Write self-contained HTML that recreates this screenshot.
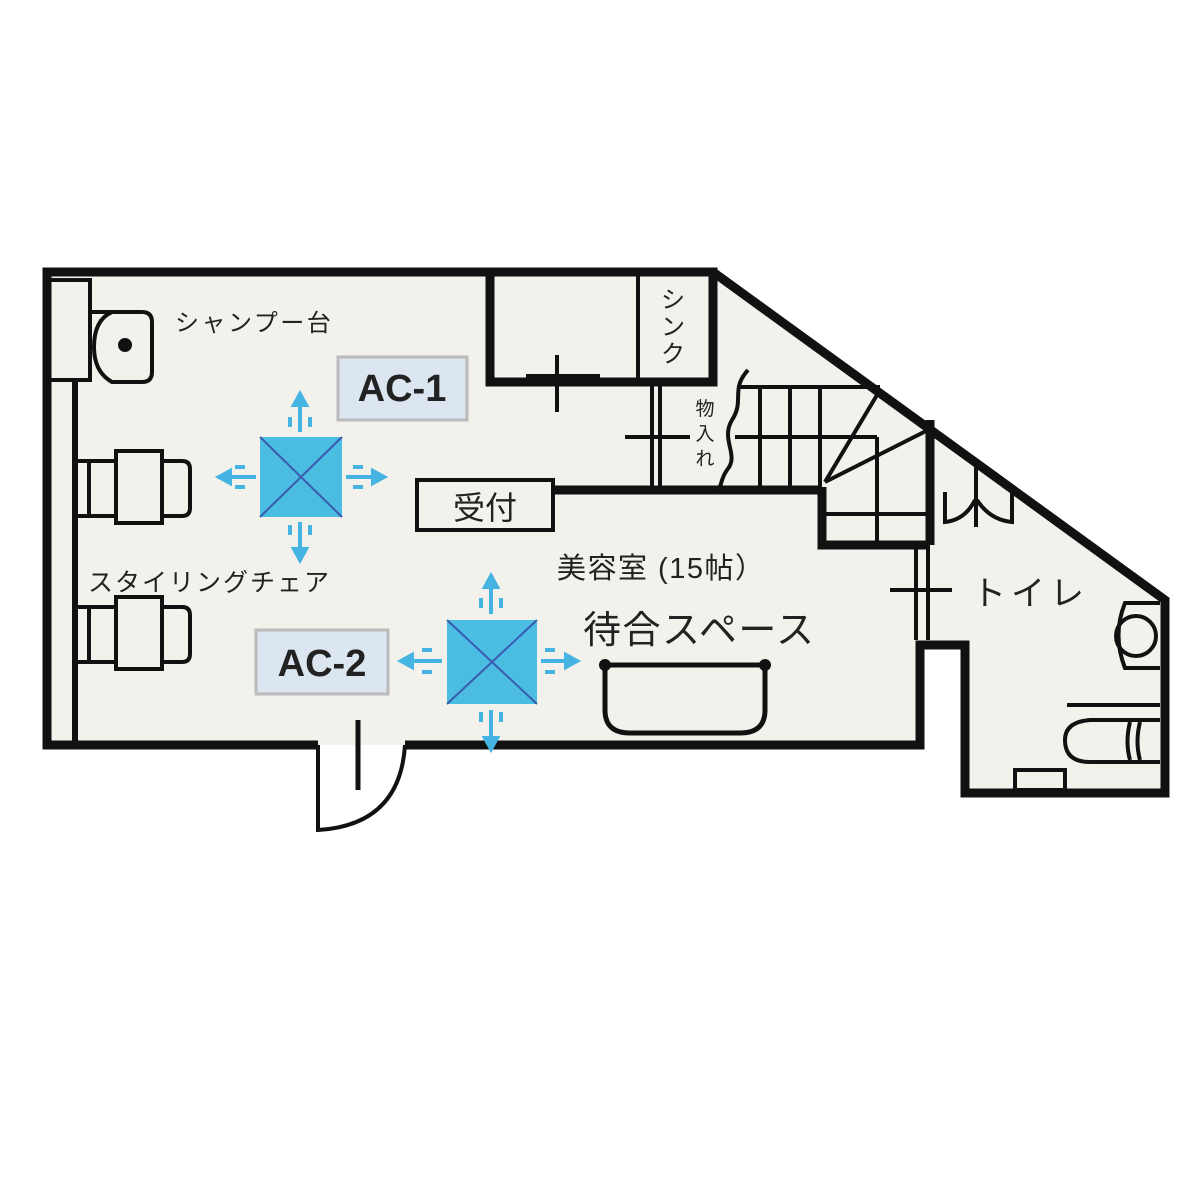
<!DOCTYPE html>
<html><head><meta charset="utf-8"><style>
body{margin:0;background:#fff}
svg{display:block}
text{font-family:"Liberation Sans","Noto Sans CJK JP",sans-serif;fill:#222}
</style></head><body>
<svg width="1200" height="1200" viewBox="0 0 1200 1200">
<rect width="1200" height="1200" fill="#fff"/>
<polygon points="47,272 713,272 1165,600 1165,793 965,793 965,645 920,645 920,745 47,745" fill="#f3f1ec"/>
<path d="M318,745 L318,830 Q400,825 405,745" fill="#fff" stroke="#111" stroke-width="4"/>
<g fill="none" stroke="#111" stroke-width="9" stroke-linejoin="miter">
<polyline points="318,745 47,745 47,272 713,272 1165,600 1165,793 965,793 965,645 920,645 920,745 405,745"/>
<rect x="490" y="272" width="223" height="110"/>
<line x1="553" y1="490" x2="822" y2="490"/>
<line x1="930" y1="420" x2="930" y2="545"/>
<polyline points="822,487 822,545 930,545"/>
</g>
<g fill="none" stroke="#111" stroke-width="4">
<line x1="638" y1="272" x2="638" y2="382"/>
<rect x="528" y="376" width="70" height="8" fill="#f3f1ec"/>
<line x1="557" y1="355" x2="557" y2="412"/>
<line x1="520" y1="380" x2="598" y2="380"/>
<line x1="652" y1="382" x2="652" y2="490"/><line x1="660" y1="382" x2="660" y2="490"/>
<line x1="625" y1="437" x2="690" y2="437"/>
<path d="M748,370 C730,390 745,400 732,420 C720,440 740,455 727,470 C720,480 722,486 718,490"/>
<line x1="740" y1="387" x2="880" y2="387"/>
<line x1="735" y1="437" x2="877" y2="437"/>
<line x1="760" y1="387" x2="760" y2="490"/>
<line x1="790" y1="387" x2="790" y2="490"/>
<line x1="820" y1="387" x2="820" y2="490"/>
<line x1="877" y1="437" x2="877" y2="545"/>
<line x1="825" y1="482" x2="880" y2="390"/>
<line x1="825" y1="482" x2="928" y2="430"/>
<line x1="822" y1="514" x2="930" y2="514"/>
<line x1="916" y1="545" x2="916" y2="640"/><line x1="928" y1="545" x2="928" y2="640"/>
<line x1="890" y1="590" x2="952" y2="590"/>
<path d="M945,492 L945,522 Q965,520 975,500"/>
<path d="M1012,492 L1012,522 Q990,520 977,500"/>
<line x1="976" y1="462" x2="976" y2="527"/>
<path d="M1160,603 L1125,603 Q1112,635 1125,668 L1160,668"/>
<circle cx="1136" cy="636" r="20"/>
<line x1="1067" y1="705" x2="1160" y2="705"/>
<path d="M1160,720 L1090,720 Q1065,722 1065,740 Q1065,762 1090,762 L1160,762"/>
<path d="M1130,722 Q1125,742 1130,760 M1140,722 Q1135,742 1140,760"/>
<rect x="1015" y="770" width="50" height="20"/>
<line x1="75" y1="380" x2="75" y2="745" stroke-width="6"/>
<rect x="47" y="280" width="43" height="100"/>
<path d="M90,312 L142,312 Q152,312 152,322 L152,372 Q152,382 142,382 L112,382 Q94,372 94,347 Q94,320 112,312"/>
<circle cx="125" cy="345" r="5" fill="#111"/>
<rect x="75" y="461" width="41" height="55"/><line x1="89" y1="461" x2="89" y2="516"/>
<rect x="116" y="451" width="46" height="72"/>
<path d="M162,461 L182,461 Q190,461 190,469 L190,508 Q190,516 182,516 L162,516"/>
<rect x="75" y="607" width="41" height="55"/><line x1="89" y1="607" x2="89" y2="662"/>
<rect x="116" y="597" width="46" height="72"/>
<path d="M162,607 L182,607 Q190,607 190,615 L190,654 Q190,662 182,662 L162,662"/>
<rect x="417" y="480" width="136" height="50" fill="#f3f1ec"/>
<path d="M605,665 L605,710 Q605,733 630,733 L740,733 Q765,733 765,710 L765,665 Z" stroke-width="5"/>
<line x1="358" y1="720" x2="358" y2="790" stroke-width="5"/>
</g>
<circle cx="605" cy="665" r="6" fill="#111"/><circle cx="765" cy="665" r="6" fill="#111"/>
<rect x="338" y="357" width="129" height="63" fill="#dce6f0" stroke="#bbb" stroke-width="3"/>
<text x="402" y="401" font-size="38" font-weight="bold" text-anchor="middle" fill="#111">AC-1</text>
<rect x="256" y="630" width="132" height="64" fill="#dce6f0" stroke="#bbb" stroke-width="3"/>
<text x="322" y="676" font-size="38" font-weight="bold" text-anchor="middle" fill="#111">AC-2</text>
<g>
<rect x="260" y="437" width="82" height="80" fill="#4bbde3"/>
<path d="M260,437 L342,517 M342,437 L260,517" stroke="#3a5bb0" stroke-width="2"/>
<rect x="447" y="620" width="90" height="84" fill="#4bbde3"/>
<path d="M447,620 L537,704 M537,620 L447,704" stroke="#3a5bb0" stroke-width="2"/>
</g>
<g stroke="#45b4e3" stroke-width="4" fill="#45b4e3">
<line x1="300" y1="432" x2="300" y2="403"/><polygon points="294,405 306,405 300,394"/>
<line x1="290" y1="417" x2="290" y2="427"/><line x1="310" y1="417" x2="310" y2="427"/>
<line x1="300" y1="522" x2="300" y2="551"/><polygon points="294,549 306,549 300,560"/>
<line x1="290" y1="525" x2="290" y2="535"/><line x1="310" y1="525" x2="310" y2="535"/>
<line x1="256" y1="477" x2="228" y2="477"/><polygon points="230,471 230,483 219,477"/>
<line x1="235" y1="467" x2="245" y2="467"/><line x1="235" y1="487" x2="245" y2="487"/>
<line x1="346" y1="477" x2="375" y2="477"/><polygon points="373,471 373,483 384,477"/>
<line x1="353" y1="467" x2="363" y2="467"/><line x1="353" y1="487" x2="363" y2="487"/>
<line x1="491" y1="614" x2="491" y2="585"/><polygon points="485,587 497,587 491,576"/>
<line x1="481" y1="598" x2="481" y2="608"/><line x1="501" y1="598" x2="501" y2="608"/>
<line x1="491" y1="710" x2="491" y2="740"/><polygon points="485,738 497,738 491,749"/>
<line x1="481" y1="712" x2="481" y2="722"/><line x1="501" y1="712" x2="501" y2="722"/>
<line x1="442" y1="661" x2="410" y2="661"/><polygon points="412,655 412,667 401,661"/>
<line x1="422" y1="650" x2="432" y2="650"/><line x1="422" y1="672" x2="432" y2="672"/>
<line x1="541" y1="661" x2="568" y2="661"/><polygon points="566,655 566,667 577,661"/>
<line x1="545" y1="650" x2="555" y2="650"/><line x1="545" y1="672" x2="555" y2="672"/>
</g>
<text x="175" y="331" font-size="24" letter-spacing="2.5">シャンプー台</text>
<text x="88" y="591" font-size="25" letter-spacing="2">スタイリングチェア</text>
<text x="485" y="519" font-size="32" text-anchor="middle" fill="#111">受付</text>
<text x="557" y="578" font-size="29" letter-spacing="1.5">美容室 (15帖）</text>
<text x="583" y="643" font-size="38" letter-spacing="1.5">待合スペース</text>
<text x="972" y="605" font-size="34" letter-spacing="5">トイレ</text>
<text font-size="24" text-anchor="middle"><tspan x="673" y="308">シ</tspan><tspan x="673" y="335">ン</tspan><tspan x="673" y="362">ク</tspan></text>
<text font-size="19" text-anchor="middle"><tspan x="705" y="415">物</tspan><tspan x="705" y="440">入</tspan><tspan x="705" y="465">れ</tspan></text>
</svg>
</body></html>
